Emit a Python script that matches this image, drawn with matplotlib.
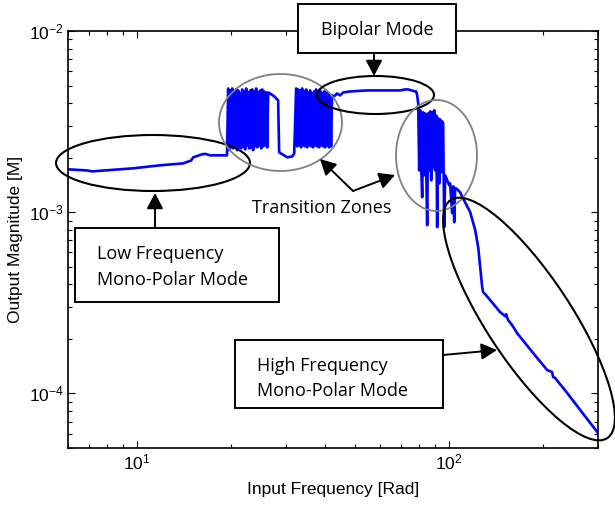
import matplotlib
matplotlib.use("Agg")
import matplotlib.pyplot as plt
from matplotlib.patches import Ellipse, Rectangle, FancyArrowPatch, ArrowStyle
from matplotlib.transforms import Affine2D

plt.rcParams['font.family'] = 'Liberation Sans'
plt.rcParams['mathtext.fontset'] = 'custom'
plt.rcParams['mathtext.rm'] = 'Liberation Sans'
plt.rcParams['mathtext.it'] = 'Liberation Sans:italic'
plt.rcParams['mathtext.bf'] = 'Liberation Sans:bold'

# Frequency response, split by operating region (magnitudes in mM)
freq_low = [6.0, 6.92, 7.17, 9.71, 11.85, 14.03, 14.9, 15.12, 16.15, 16.5, 17.14, 19.4]
mag_low = [1.725, 1.70, 1.68, 1.747, 1.815, 1.86, 1.93, 2.01, 2.087, 2.10, 2.06, 2.06]

freq_trans1 = [19.57, 19.72, 19.86, 20.01, 20.16, 20.31, 20.46, 20.61, 20.76, 20.92,
               21.07, 21.23, 21.38, 21.54, 21.70, 21.86, 22.02, 22.18, 22.35, 22.51,
               22.68, 22.85, 23.02, 23.19, 23.36, 23.53, 23.71, 23.88, 24.06, 24.24,
               24.42, 24.60, 24.78, 24.97, 25.15, 25.34, 25.52, 25.71, 25.90, 26.10,
               26.29,
               26.68, 27.48, 28.30, 28.51, 29.15, 30.25, 31.39, 31.86,
               32.32, 32.56, 32.80, 33.04, 33.28, 33.53, 33.78, 34.03, 34.28, 34.53,
               34.79, 35.05, 35.31, 35.57, 35.83, 36.10, 36.36, 36.63, 36.90, 37.18,
               37.45, 37.73, 38.01, 38.29, 38.57, 38.86, 39.14, 39.43, 39.72, 40.02,
               40.31, 40.61, 40.91, 41.21, 41.52, 41.83, 42.14]
mag_trans1 = [4.82, 2.20, 4.70, 2.28, 4.82, 2.25, 4.58, 2.31, 4.76, 2.20,
              4.70, 2.28, 4.52, 2.25, 4.76, 2.31, 4.64, 2.22, 4.82, 2.34,
              4.58, 2.25, 4.70, 2.28, 4.76, 2.20, 4.64, 2.31, 4.82, 2.28,
              4.58, 2.34, 4.70, 2.25, 4.76, 2.31, 4.64, 2.34, 4.58, 2.28,
              4.58,
              4.52, 4.36, 4.14, 2.14, 2.09, 2.01, 2.03, 2.11,
              4.82, 2.31, 4.76, 2.34, 4.70, 2.28, 4.82, 2.34, 4.64, 2.31,
              4.76, 2.28, 4.58, 2.34, 4.70, 2.31, 4.52, 2.28, 4.64, 2.34,
              4.76, 2.31, 4.58, 2.28, 4.70, 2.34, 4.52, 2.31, 4.64, 2.28,
              4.58, 2.34, 4.52, 2.28, 4.47, 2.31, 4.41]

freq_bipolar = [42.76, 43.75, 44.70, 45.74, 48.16, 54.60, 61.44, 69.66, 72.27, 73.88,
                77.81, 78.40]
mag_bipolar = [4.36, 4.52, 4.41, 4.58, 4.64, 4.70, 4.70, 4.70, 4.76, 4.76, 4.64, 4.64]

freq_trans2 = [78.98, 79.56, 80.15, 80.74, 81.34, 81.94, 82.55, 83.16, 83.77, 84.39,
               85.02, 85.65, 86.29, 86.93, 87.58, 88.23, 88.88, 89.54, 90.20, 90.86,
               91.53, 92.21, 92.90, 93.59, 94.28, 94.97, 95.67, 96.38, 97.10, 98.53,
               100.0, 100.74, 102.2, 103.0, 103.8, 104.5, 106.1, 108.4]
mag_trans2 = [4.41, 3.99, 1.70, 3.65, 1.815, 1.21, 3.56, 1.60, 3.51, 1.815,
              0.848, 3.51, 1.70, 3.60, 1.50, 3.56, 1.77, 3.65, 1.70, 3.42,
              0.827, 3.30, 1.44, 3.25, 1.66, 3.17, 3.09, 0.827, 1.60, 1.50,
              1.41, 1.44, 0.988, 1.39, 0.881, 1.36, 1.34, 1.29]

freq_high = [110.9, 116.8, 121.2, 123.9, 125.7, 127.6, 128.5, 130.5, 135.4, 145.7,
             151.2, 152.3, 153.5, 154.6, 159.2, 165.2, 168.9, 185.9, 206.1, 213.8,
             215.4, 218.6, 238.9, 263.0, 283.1, 300.0]
mag_high = [1.19, 1.00, 0.796, 0.641, 0.498, 0.386, 0.362, 0.353, 0.327, 0.281,
            0.267, 0.274, 0.261, 0.254, 0.238, 0.215, 0.205, 0.167, 0.1347, 0.1313,
            0.1233, 0.1217, 0.1006, 0.0811, 0.0688, 0.0606]

freq = freq_low + freq_trans1 + freq_bipolar + freq_trans2 + freq_high
mag = [m * 1e-3 for m in mag_low + mag_trans1 + mag_bipolar + mag_trans2 + mag_high]

W, H, DPI = 615, 508, 100
fig = plt.figure(figsize=(W / DPI, H / DPI), dpi=DPI)
ax = fig.add_axes([68 / W, 60 / H, 530 / W, 417 / H])

ax.loglog(freq, mag, color='#0000ff', lw=1.9)
ax.set_xlim(6, 300)
ax.set_ylim(5e-5, 1e-2)

ax.tick_params(which='both', direction='in', top=True, right=True,
               labelsize=12.5, pad=3, width=0.8)
ax.tick_params(which='major', length=5)
ax.tick_params(which='minor', length=3)
for sp in ax.spines.values():
    sp.set_linewidth(1.2)

ax.set_xlabel('Input Frequency [Rad]', fontsize=12.5, labelpad=7)
ax.set_ylabel('Output Magnitude [M]', fontsize=12.5, labelpad=4)

# annotation layer in pixel units, origin at the top-left corner
px = Affine2D().scale(1 / DPI, -1 / DPI).translate(0, H / DPI) + fig.dpi_scale_trans
note_font = dict(family='Open Sans', fontsize=13, color='black')

def ellipse(cx, cy, w, h, angle=0, color='black', lw=1.5):
    fig.add_artist(Ellipse((cx, cy), w, h, angle=angle, fill=False, ec=color,
                           lw=lw, transform=px, clip_on=False))

def box(x0, y0, x1, y1):
    fig.add_artist(Rectangle((x0, y0), x1 - x0, y1 - y0, fc='white', ec='black',
                             lw=1.4, transform=px, clip_on=False))

def arrow(p0, p1):
    style = ArrowStyle('-|>', head_length=0.95, head_width=0.5)
    fig.add_artist(FancyArrowPatch(p0, p1, arrowstyle=style, mutation_scale=10,
                                   color='black', lw=1.4, shrinkA=0, shrinkB=0,
                                   transform=px, clip_on=False))

ellipse(153, 163, 194, 56)
ellipse(280.5, 122.5, 123, 97, color='#808080', lw=1.3)
ellipse(375.5, 95, 117, 38)
ellipse(436.5, 155.5, 81, 111, color='#808080', lw=1.3)
ellipse(529, 319, 285, 85, angle=56.7)

box(298, 4, 456, 53)
fig.text(377, 35, 'Bipolar Mode', ha='center', va='baseline', transform=px, **note_font)
arrow((374, 53), (374, 76))

box(75, 228, 279, 302)
fig.text(97, 259, 'Low Frequency', ha='left', va='baseline', transform=px, **note_font)
fig.text(97, 285, 'Mono-Polar Mode', ha='left', va='baseline', transform=px, **note_font)
arrow((155, 228), (155, 193))

box(235, 340, 443, 408)
fig.text(257, 371, 'High Frequency', ha='left', va='baseline', transform=px, **note_font)
fig.text(257, 396, 'Mono-Polar Mode', ha='left', va='baseline', transform=px, **note_font)
arrow((443, 355), (497, 350))

fig.text(252, 213, 'Transition Zones', ha='left', va='baseline', transform=px, **note_font)
arrow((353, 191), (320, 159))
arrow((353, 191), (395, 175))

fig.savefig('out.png', dpi=DPI)
